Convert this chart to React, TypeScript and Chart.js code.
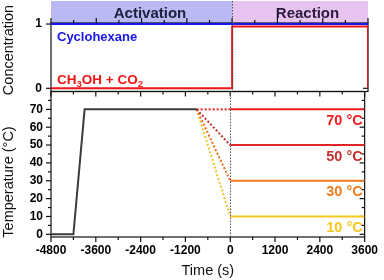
import React, { useEffect, useRef } from "react";
import { Chart, registerables } from "chart.js";
Chart.register(...registerables);

const FONT = "'Liberation Sans', Arial, sans-serif";

// ---- tick labels ----
const timeTicks = [-4800, -3600, -2400, -1200, 0, 1200, 2400, 3600];
const timeMinorTicks = [-4200, -3000, -1800, -600, 600, 1800, 3000];
const tempTicks = [0, 10, 20, 30, 40, 50, 60, 70];
const tempMinorTicks = [5, 15, 25, 35, 45, 55, 65, 75];
const concTicks = [0, 1];

// ---- concentration series ----
const cycloTimes = [-4800, 3600];
const cycloValues = [1, 1];
const methanolTimes = [-4800, 0, 0, 3600, 3600];
const methanolValues = [0, 0, 0.96, 0.96, 0];

// ---- temperature series ----
const activationTimes = [-4800, -4200, -3900, -900];
const activationTemps = [0, 0, 70, 70];
const holdEnd = -900;
const reactionStart = 0;
const reactionEnd = 3600;
const reactionTemps = [70, 50, 30, 10];
const reactionLabels = ["70 °C", "50 °C", "30 °C", "10 °C"];
const lineColors = ["#ee1c1c", "#e02626", "#f07c1c", "#f6c81e"];
const dotColors = ["#e81e1e", "#c0302a", "#ec6e20", "#f4c228"];
const textColors = ["#ee1c1c", "#c4302a", "#f07c1c", "#f6c81e"];

const pts = (xs: number[], ys: number[]) => xs.map((x, i) => ({ x, y: ys[i] }));

function framePlugin(id: string, cfg: any) {
  return {
    id,
    beforeDatasetsDraw(chart: any) {
      const { ctx, chartArea: a, scales } = chart;
      const xs = scales.x, ys = scales.y;
      ctx.save();
      ctx.strokeStyle = "#111";
      ctx.lineWidth = 1.2;
      ctx.strokeRect(a.left, a.top, a.right - a.left, a.bottom - a.top);
      const seg = (x1: number, y1: number, x2: number, y2: number) => {
        ctx.beginPath();
        ctx.moveTo(x1, y1);
        ctx.lineTo(x2, y2);
        ctx.stroke();
      };
      const doX = (vals: number[], len: number) => {
        vals.forEach((v) => {
          const px = xs.getPixelForValue(v);
          if (cfg.top) seg(px, a.top, px, a.top - len * cfg.top);
          if (cfg.bottom) seg(px, a.bottom, px, a.bottom + len * cfg.bottom);
        });
      };
      const doY = (vals: number[], len: number, rightToo: boolean) => {
        vals.forEach((v) => {
          const py = ys.getPixelForValue(v);
          if (cfg.left) seg(a.left, py, a.left - len * cfg.left, py);
          if (cfg.right && rightToo) seg(a.right, py, a.right + len * cfg.right, py);
        });
      };
      doX(cfg.xMajor, 5);
      doX(cfg.xMinor, 3);
      doY(cfg.yMajor, 5, true);
      doY(cfg.yMinor, 3, true);
      ctx.restore();
    },
  };
}

function drawText(ctx: any, s: string, x: number, y: number, font: string, color: string, align: string = "left", rot = 0) {
  ctx.save();
  ctx.translate(x, y);
  if (rot) ctx.rotate(rot);
  ctx.font = font;
  ctx.fillStyle = color;
  ctx.textAlign = align;
  ctx.textBaseline = "alphabetic";
  ctx.fillText(s, 0, 0);
  ctx.restore();
}

function vDotted(ctx: any, x: number, y1: number, y2: number) {
  ctx.save();
  ctx.strokeStyle = "#555";
  ctx.lineWidth = 1;
  ctx.setLineDash([1.5, 1.5]);
  ctx.beginPath();
  ctx.moveTo(Math.round(x) + 0.5, y1);
  ctx.lineTo(Math.round(x) + 0.5, y2);
  ctx.stroke();
  ctx.restore();
}

const tickFont = { family: FONT, size: 12, weight: "bold" as const };

export default function App() {
  const topRef = useRef<HTMLCanvasElement>(null);
  const botRef = useRef<HTMLCanvasElement>(null);

  useEffect(() => {
    const topDecor = {
      id: "topDecor",
      beforeDraw(chart: any) {
        const { ctx, chartArea: a, scales } = chart;
        const xs = scales.x;
        const x0 = xs.getPixelForValue(-4800);
        const xr = xs.getPixelForValue(reactionStart);
        const xe = xs.getPixelForValue(reactionEnd);
        ctx.save();
        ctx.fillStyle = "#b9b9f4";
        ctx.fillRect(x0, 1, xr - x0, a.top - 1);
        ctx.fillStyle = "#e7c3ef";
        ctx.fillRect(xr, 1, xe - xr, a.top - 1);
        ctx.restore();
        drawText(ctx, "Activation", 150, 17.5, `bold 15px ${FONT}`, "#20203e", "center");
        drawText(ctx, "Reaction", 307.5, 17.5, `bold 15px ${FONT}`, "#2a1a3e", "center");
      },
      afterDatasetsDraw(chart: any) {
        const { ctx, chartArea: a, scales } = chart;
        const xs = scales.x, ys = scales.y;
        vDotted(ctx, xs.getPixelForValue(reactionStart), 1, a.bottom);
        const lx = xs.getPixelForValue(-4800) + 6;
        drawText(ctx, "Cyclohexane", lx, ys.getPixelForValue(1) + 16.5, `bold 13px ${FONT}`, "#1616ee");
        // CH3OH + CO2 with subscripts
        const by = ys.getPixelForValue(0) - 4;
        const big = `bold 13.5px ${FONT}`;
        const small = `bold 9.5px ${FONT}`;
        const red = "#ee1414";
        ctx.save();
        let cx = lx;
        const part = (s: string, f: string, dy: number) => {
          ctx.font = f;
          drawText(ctx, s, cx, by + dy, f, red);
          cx += ctx.measureText(s).width;
        };
        part("CH", big, 0);
        part("3", small, 3);
        part("OH + CO", big, 0);
        part("2", small, 3);
        ctx.restore();
        drawText(ctx, "Concentration", 13, 50, `14.5px ${FONT}`, "#111", "center", -Math.PI / 2);
      },
    };

    const botDecor = {
      id: "botDecor",
      afterDatasetsDraw(chart: any) {
        const { ctx, chartArea: a, scales } = chart;
        const xs = scales.x, ys = scales.y;
        vDotted(ctx, xs.getPixelForValue(reactionStart), a.top, a.bottom);
        reactionTemps.forEach((t, i) => {
          drawText(ctx, reactionLabels[i], a.right - 2, ys.getPixelForValue(t) + 15.5, `bold 14.5px ${FONT}`, textColors[i], "right");
        });
        drawText(ctx, "Temperature (°C)", 13, 182, `14.5px ${FONT}`, "#111", "center", -Math.PI / 2);
        drawText(ctx, "Time (s)", (a.left + a.right) / 2, 275, `14.5px ${FONT}`, "#111", "center");
      },
    };

    const dotted = reactionTemps.map((t, i) => ({
      data: [{ x: holdEnd, y: 70 }, { x: reactionStart, y: t }],
      borderColor: dotColors[i],
      borderWidth: 2,
      borderDash: [2, 2],
      pointRadius: 0,
    }));
    const solid = reactionTemps.map((t, i) => ({
      data: [{ x: reactionStart, y: t }, { x: reactionEnd, y: t }],
      borderColor: lineColors[i],
      borderWidth: 2,
      pointRadius: 0,
    }));

    const c1 = new Chart(topRef.current!, {
      type: "line",
      data: {
        datasets: [
          { data: pts(cycloTimes, cycloValues), borderColor: "#1616ee", borderWidth: 2, pointRadius: 0 },
          { data: pts(methanolTimes, methanolValues), borderColor: "#ee1414", borderWidth: 2, pointRadius: 0 },
        ],
      },
      options: {
        animation: false,
        responsive: false,
        devicePixelRatio: 1,
        layout: { padding: { top: 23, left: 0, right: 16, bottom: 280 - 91.5 } },
        plugins: { legend: { display: false }, tooltip: { enabled: false } },
        elements: { line: { tension: 0 } },
        scales: {
          x: {
            type: "linear",
            min: -4800,
            max: 3600,
            afterBuildTicks: (s: any) => { s.ticks = timeTicks.map((v) => ({ value: v })); },
            ticks: { display: false },
            grid: { display: false, drawTicks: false },
            border: { display: false },
            afterFit: (s: any) => { s.height = 0; },
          },
          y: {
            type: "linear",
            min: -0.05,
            max: 1.016,
            afterBuildTicks: (s: any) => { s.ticks = concTicks.map((v) => ({ value: v })); },
            ticks: { font: tickFont, color: "#000", padding: 9, callback: (v: any) => String(v) },
            grid: { display: false, drawTicks: false },
            border: { display: false },
            afterFit: (s: any) => { s.width = 51; },
          },
        },
      },
      plugins: [
        topDecor,
        framePlugin("frameTop", { xMajor: timeTicks, xMinor: timeMinorTicks, yMajor: concTicks, yMinor: [], top: 1, bottom: 0, left: 1, right: -1 }),
      ],
    } as any);

    const c2 = new Chart(botRef.current!, {
      type: "line",
      data: {
        datasets: [
          { data: pts(activationTimes, activationTemps), borderColor: "#3c3c3c", borderWidth: 2, pointRadius: 0 },
          ...dotted,
          ...solid,
        ],
      },
      options: {
        animation: false,
        responsive: false,
        devicePixelRatio: 1,
        layout: { padding: { top: 91.5, left: 0, right: 16, bottom: 0 } },
        plugins: { legend: { display: false }, tooltip: { enabled: false } },
        elements: { line: { tension: 0 } },
        scales: {
          x: {
            type: "linear",
            min: -4800,
            max: 3600,
            afterBuildTicks: (s: any) => { s.ticks = timeTicks.map((v) => ({ value: v })); },
            ticks: { font: tickFont, color: "#000", padding: 6, maxRotation: 0, autoSkip: false, callback: (v: any) => String(v) },
            grid: { display: false, drawTicks: false },
            border: { display: false },
            afterFit: (s: any) => { s.height = 43; },
          },
          y: {
            type: "linear",
            min: -1.5,
            max: 80,
            afterBuildTicks: (s: any) => { s.ticks = tempTicks.map((v) => ({ value: v })); },
            ticks: { font: tickFont, color: "#000", padding: 8, callback: (v: any) => String(v) },
            grid: { display: false, drawTicks: false },
            border: { display: false },
            afterFit: (s: any) => { s.width = 51; },
          },
        },
      },
      plugins: [
        botDecor,
        framePlugin("frameBot", { xMajor: timeTicks, xMinor: timeMinorTicks, yMajor: tempTicks, yMinor: tempMinorTicks, top: -1, bottom: 1, left: 1, right: -1 }),
      ],
    } as any);

    return () => {
      c1.destroy();
      c2.destroy();
    };
  }, []);

  return (
    <div style={{ position: "fixed", left: 0, top: 0, width: 384, height: 280, background: "#fff" }}>
      <canvas ref={topRef} width={384} height={280} style={{ position: "absolute", left: 0, top: 0 }} />
      <canvas ref={botRef} width={384} height={280} style={{ position: "absolute", left: 0, top: 0 }} />
    </div>
  );
}
